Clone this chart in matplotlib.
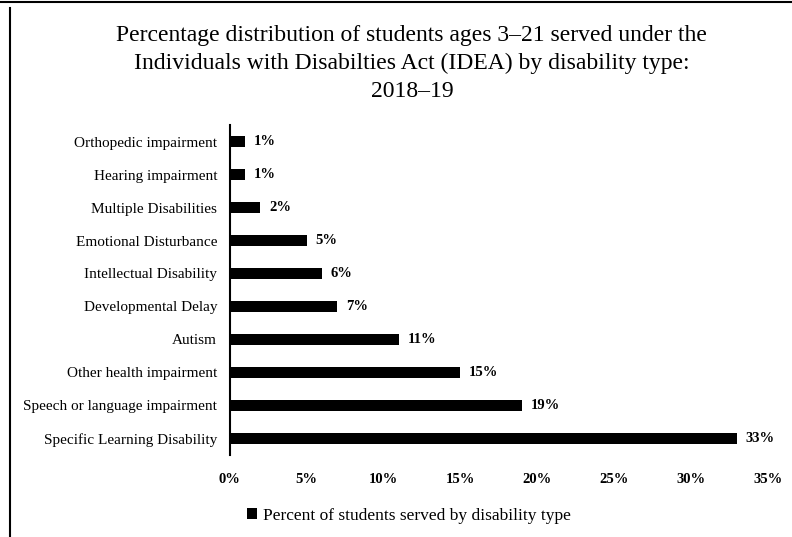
import matplotlib.pyplot as plt
from matplotlib.lines import Line2D

# data, top to bottom as in the chart
categories = ['Orthopedic impairment', 'Hearing impairment', 'Multiple Disabilities',
              'Emotional Disturbance', 'Intellectual Disability', 'Developmental Delay',
              'Autism', 'Other health impairment', 'Speech or language impairment',
              'Specific Learning Disability']
values = [1, 1, 2, 5, 6, 7, 11, 15, 19, 33]
xticks = [0, 5, 10, 15, 20, 25, 30, 35]

plt.rcParams['font.family'] = ['Liberation Serif', 'DejaVu Serif']

fig = plt.figure(figsize=(7.92, 5.37), dpi=100)
ax = fig.add_axes([0.290, 0.153, 0.680, 0.614])

ypos = list(range(len(categories)))
bars = ax.barh(ypos, values, height=0.32, color='black',
               label='Percent of students served by disability type')
ax.set_ylim(len(categories) - 0.5, -0.5)
ax.set_xlim(0, 35)
ax.set_yticks(ypos)
ax.set_yticklabels(categories, fontsize=11)
ax.set_xticks(xticks)
ax.set_xticklabels([str(t) + '%' for t in xticks], fontsize=10.5, fontweight='bold')
ax.tick_params(axis='y', length=0, pad=9)
ax.tick_params(axis='x', length=0, pad=13)

for v, y in zip(values, ypos):
    ax.text(v + 0.55, y, str(v) + '%', va='center', ha='left', fontsize=10.5, fontweight='bold')

for s in ['top', 'right', 'bottom']:
    ax.spines[s].set_visible(False)
ax.spines['left'].set_linewidth(1.5)

fig.text(0.52, 0.953, 'Percentage distribution of students ages 3\u201321 served under the\n'
         'Individuals with Disabilties Act (IDEA) by disability type:\n2018\u201319',
         ha='center', va='top', fontsize=17, linespacing=1.42)

fig.legend(handles=[bars], labels=['Percent of students served by disability type'],
           loc='center left', bbox_to_anchor=(0.292, 0.04), frameon=False,
           fontsize=12.5, handlelength=0.6, handleheight=0.6, handletextpad=0.3)

# outer frame lines (left and top)
fig.add_artist(Line2D([0.012, 0.012], [0, 0.985], color='black', lw=1.5))
fig.add_artist(Line2D([0, 1], [0.997, 0.997], color='black', lw=1.5))

fig.savefig('out.png', dpi=100)
